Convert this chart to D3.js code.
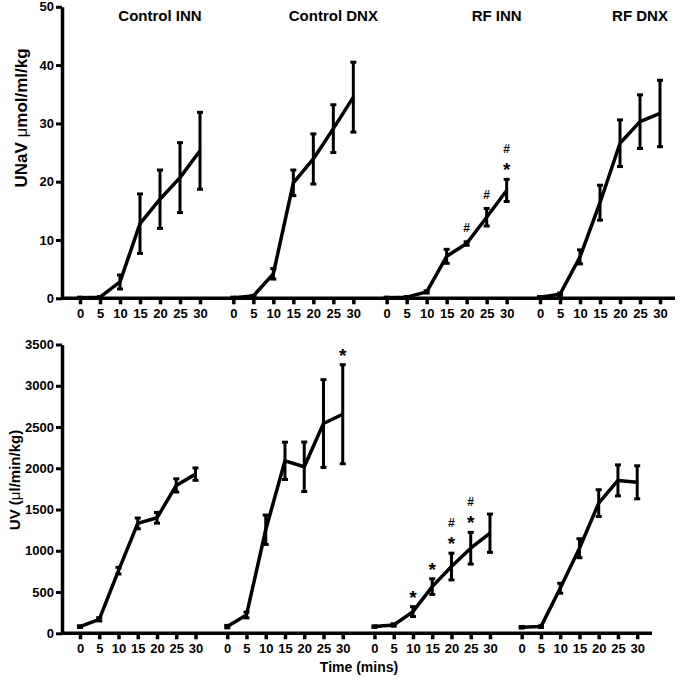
<!DOCTYPE html>
<html>
<head>
<meta charset="utf-8">
<script src="https://cdn.jsdelivr.net/npm/d3@7/dist/d3.min.js"></script>
<style>
  body { margin: 0; background: #fff; }
  svg { display: block; font-family: 'Liberation Sans', Arial, sans-serif; }
  .axis path, .axis line { stroke: #000; }
  .axis text { font-size: 13px; font-weight: bold; fill: #000; }
</style>
</head>
<body>
<svg id="chart" width="680" height="679"></svg>
<script>
'use strict';

/* data */
var groups = ['Control INN', 'Control DNX', 'RF INN', 'RF DNX'];
var minutes = [0, 5, 10, 15, 20, 25, 30];

var unavMean = [
  [0.1, 0.2, 2.8, 12.8, 17.0, 20.7, 25.3],
  [0.1, 0.4, 4.2, 19.8, 23.9, 29.1, 34.5],
  [0.1, 0.2, 1.1, 7.2, 9.4, 13.9, 18.5],
  [0.2, 0.7, 7.1, 16.4, 26.6, 30.3, 31.7]
];
var unavSem = [
  [0.1, 0.1, 1.2, 5.1, 5.0, 6.0, 6.6],
  [0.1, 0.1, 0.9, 2.2, 4.3, 4.1, 6.0],
  [0.1, 0.1, 0.2, 1.2, 0.3, 1.5, 1.9],
  [0.1, 0.2, 1.2, 3.0, 4.0, 4.6, 5.7]
];
var unavTicks = [0, 10, 20, 30, 40, 50];
var unavMarks = [
  { g: 2, t: 20, m: ['#'] },
  { g: 2, t: 25, m: ['#'] },
  { g: 2, t: 30, m: ['*', '#'] }
];

var uvMean = [
  [81, 170, 759, 1332, 1400, 1792, 1929],
  [81, 222, 1255, 2090, 2018, 2542, 2655],
  [81, 101, 263, 566, 809, 1031, 1213],
  [73, 81, 546, 1031, 1578, 1853, 1830]
];
var uvSem = [
  [10, 20, 40, 65, 65, 80, 75],
  [15, 35, 178, 226, 300, 532, 600],
  [10, 15, 60, 95, 162, 192, 232],
  [10, 10, 60, 115, 162, 188, 200]
];
var uvTicks = [0, 500, 1000, 1500, 2000, 2500, 3000, 3500];
var uvMarks = [
  { g: 1, t: 30, m: ['*'] },
  { g: 2, t: 10, m: ['*'] },
  { g: 2, t: 15, m: ['*'] },
  { g: 2, t: 20, m: ['*', '#'] },
  { g: 2, t: 25, m: ['*', '#'] }
];

var svg = d3.select('#chart');

function drawPanel(o) {
  var g = svg.append('g');

  var y = d3.scaleLinear().domain([0, o.yMax]).range([o.bottom, o.top]);
  var gx = d3.scaleLinear().domain([0, groups.length - 1]).range(o.groupRange);
  var inner = d3.scaleLinear().domain([0, 30]).range([0, o.groupWidth]);
  var x = function(gi, t) { return gx(gi) + inner(t); };

  /* y axis */
  var yAxis = d3.axisLeft(y).tickValues(o.ticks).tickFormat(d3.format('d'))
    .tickSize(6).tickSizeOuter(0).tickPadding(2);
  g.append('g')
    .attr('class', 'axis y')
    .attr('transform', 'translate(' + o.left + ',0)')
    .call(yAxis)
    .call(function(s) {
      s.select('.domain').attr('stroke-width', 3.5);
      s.selectAll('.tick line').attr('stroke-width', 3);
    });

  /* x baseline across all groups */
  g.append('line')
    .attr('x1', o.left).attr('x2', o.right)
    .attr('y1', o.bottom).attr('y2', o.bottom)
    .attr('stroke', '#000').attr('stroke-width', 3.5);

  groups.forEach(function(name, gi) {
    var xAxis = d3.axisBottom(inner).tickValues(minutes).tickSize(6).tickPadding(4);
    g.append('g')
      .attr('class', 'axis x')
      .attr('transform', 'translate(' + gx(gi) + ',' + o.bottom + ')')
      .call(xAxis)
      .call(function(s) {
        s.select('.domain').remove();
        s.selectAll('.tick line').attr('stroke-width', 3.5);
      });

    var pts = minutes.map(function(t, i) {
      return { t: t, v: o.mean[gi][i], e: o.sem[gi][i] };
    });

    /* error bars */
    var bars = g.append('g').attr('stroke', '#000').attr('stroke-width', 3);
    pts.forEach(function(d) {
      var cx = x(gi, d.t);
      var y1 = y(d.v + d.e), y2 = y(d.v - d.e);
      bars.append('line').attr('x1', cx).attr('x2', cx).attr('y1', y1).attr('y2', y2);
      bars.append('line').attr('x1', cx - 3).attr('x2', cx + 3).attr('y1', y1).attr('y2', y1);
      bars.append('line').attr('x1', cx - 3).attr('x2', cx + 3).attr('y1', y2).attr('y2', y2);
    });

    /* mean line */
    g.append('path')
      .datum(pts)
      .attr('fill', 'none')
      .attr('stroke', '#000')
      .attr('stroke-width', 3.5)
      .attr('stroke-linejoin', 'round')
      .attr('d', d3.line()
        .x(function(d) { return x(gi, d.t); })
        .y(function(d) { return y(d.v); }));

    if (o.titles) {
      g.append('text')
        .attr('x', x(gi, o.titleAt[gi]))
        .attr('y', 21)
        .attr('text-anchor', 'middle')
        .style('font-size', '15px')
        .style('font-weight', 'bold')
        .text(name);
    }
  });

  /* significance marks, stacked above the error bar */
  o.marks.forEach(function(mk) {
    var i = minutes.indexOf(mk.t);
    var cx = x(mk.g, mk.t);
    var cy = y(o.mean[mk.g][i] + o.sem[mk.g][i]) - 14;
    mk.m.forEach(function(sym) {
      var big = sym === '*';
      g.append('text')
        .attr('x', cx)
        .attr('y', cy + (big ? 11 : 4.5))
        .attr('text-anchor', 'middle')
        .style('font-size', big ? '19px' : '12px')
        .style('font-weight', 'bold')
        .text(sym);
      cy -= 17;
    });
  });

  /* y label */
  var lab = g.append('text')
    .attr('transform', 'translate(' + o.labelX + ',' + o.labelY + ') rotate(-90)')
    .attr('text-anchor', 'middle')
    .style('font-size', o.labelSize + 'px')
    .style('font-weight', 'bold');
  lab.append('tspan').text(o.label[0]);
  lab.append('tspan').style('font-weight', 'normal').text('\u03bc');
  lab.append('tspan').text(o.label[1]);
}

drawPanel({
  yMax: 50, top: 6.8, bottom: 298.3,
  left: 62, right: 675,
  groupRange: [80, 540], groupWidth: 120,
  ticks: unavTicks, mean: unavMean, sem: unavSem, marks: unavMarks,
  titles: true, titleAt: [20, 25, 27.5, 25],
  label: ['UNaV ', 'mol/ml/kg'], labelX: 27, labelY: 118, labelSize: 17
});

drawPanel({
  yMax: 3500, top: 344.5, bottom: 633.3,
  left: 62, right: 652,
  groupRange: [80, 521.7], groupWidth: 115.5,
  ticks: uvTicks, mean: uvMean, sem: uvSem, marks: uvMarks,
  titles: false,
  label: ['UV (', 'l/min/kg)'], labelX: 20, labelY: 480, labelSize: 15
});

svg.append('text')
  .attr('x', 359)
  .attr('y', 672)
  .attr('text-anchor', 'middle')
  .style('font-size', '14px')
  .style('font-weight', 'bold')
  .text('Time (mins)');
</script>
</body>
</html>
